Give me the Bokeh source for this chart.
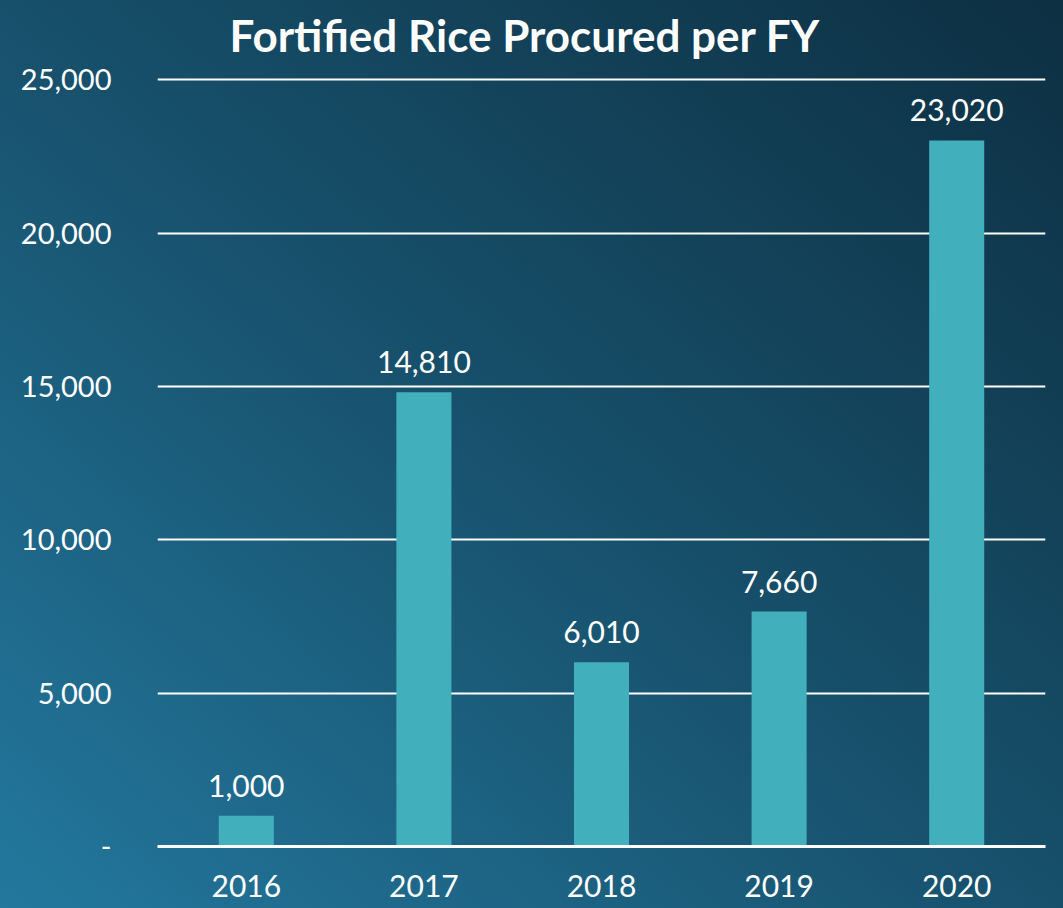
from bokeh.plotting import figure
from bokeh.models import ColumnDataSource, FixedTicker, LabelSet
from bokeh.core.properties import value
from bokeh.embed import file_html
from bokeh.resources import INLINE

years = ["2016", "2017", "2018", "2019", "2020"]
values = [1000, 14810, 6010, 7660, 23020]
y_ticks = [0, 5000, 10000, 15000, 20000, 25000]
y_tick_labels = ["-", "5,000", "10,000", "15,000", "20,000", "25,000"]

FONT = "Lato"

src = ColumnDataSource(dict(
    year=years,
    value=values,
    label=[f"{v:,}" for v in values],
))

p = figure(
    x_range=years, y_range=(0, 25300),
    width=1063, height=908,
    output_backend="svg", toolbar_location=None,
    min_border_left=157, min_border_right=18, min_border_top=70, min_border_bottom=62,
)
p.styles = {"background": "linear-gradient(to top right, #23789e 0%, #17506b 50%, #0d2f42 100%)"}
p.border_fill_alpha = 0
p.background_fill_alpha = 0
p.outline_line_color = None

p.vbar(x="year", top="value", width=0.31, source=src,
       fill_color="#42afbd", line_color=None)

labels = LabelSet(x="year", y="value", text="label", source=src,
                  text_align="center", text_baseline="bottom", y_offset=19,
                  text_color="white", text_font=value(FONT), text_font_size="30px")
p.add_layout(labels)

p.title.text = "Fortified Rice Procured per FY"
p.title.text_font = FONT
p.title.text_font_style = "bold"
p.title.text_font_size = "44px"
p.title.text_color = "white"
p.title.vertical_align = "top"
p.title.align = "left"
p.title.offset = 72
p.title.standoff = 16

p.yaxis.ticker = FixedTicker(ticks=y_ticks)
p.yaxis.major_label_overrides = {t: l for t, l in zip(y_ticks, y_tick_labels)}
p.yaxis.major_label_text_font = FONT
p.yaxis.major_label_text_font_size = "29px"
p.yaxis.major_label_text_color = "white"
p.yaxis.major_label_standoff = 40
p.yaxis.axis_line_color = None
p.yaxis.major_tick_line_color = None
p.yaxis.minor_tick_line_color = None

p.xaxis.major_label_text_font = FONT
p.xaxis.major_label_text_font_size = "30px"
p.xaxis.major_label_text_color = "white"
p.xaxis.major_label_standoff = 22
p.xaxis.axis_line_color = "white"
p.xaxis.axis_line_width = 3
p.xaxis.major_tick_line_color = None
p.xaxis.minor_tick_line_color = None

p.xgrid.grid_line_color = None
p.ygrid.ticker = FixedTicker(ticks=y_ticks)
p.ygrid.grid_line_color = "white"
p.ygrid.grid_line_width = 2

open("out.html", "w").write(file_html(p, INLINE))
